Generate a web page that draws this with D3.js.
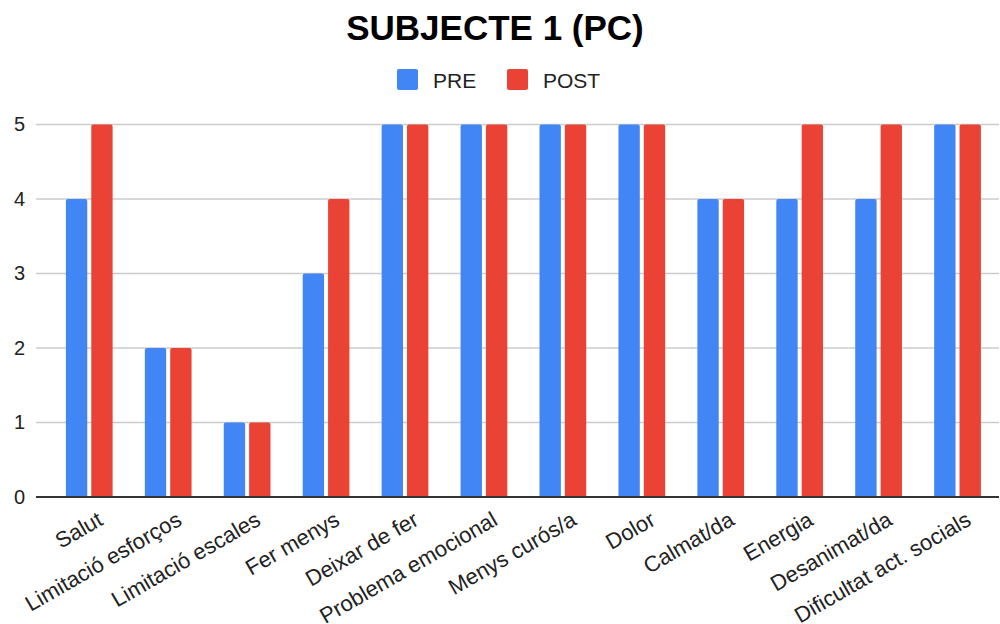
<!DOCTYPE html>
<html><head><meta charset="utf-8">
<script src="https://cdn.jsdelivr.net/npm/d3@7"></script>
<style>body{margin:0;background:#fff}svg{display:block;font-family:Arial,"Liberation Sans",sans-serif}</style>
</head><body><svg id="c" width="1000" height="624"></svg>
<script>
const categories = ["Salut","Limitació esforços","Limitació escales","Fer menys","Deixar de fer","Problema emocional","Menys curós/a","Dolor","Calmat/da","Energia","Desanimat/da","Dificultat act. socials"];
const seriesNames = ["PRE","POST"];
const preValues = [4,2,1,3,5,5,5,5,4,4,4,5];
const postValues = [5,2,1,4,5,5,5,5,4,5,5,5];
const yTicks = [0,1,2,3,4,5];
const colors = ["#4285F4","#EA4335"];

const svg = d3.select("#c");
const x0 = d3.scaleBand().domain(categories).range([49.8, 997]).paddingInner(0.408).paddingOuter(0.204);
const x1 = d3.scaleBand().domain(seriesNames).range([0, x0.bandwidth()]).paddingInner(0.158);
const y = d3.scaleLinear().domain([0,5]).range([497, 124.5]);

// title
svg.append("text").attr("x",495).attr("y",40).attr("text-anchor","middle")
  .attr("font-size",35).attr("font-weight","bold").attr("fill","#000").text("SUBJECTE 1 (PC)");

// legend
const legX = [397, 507];
seriesNames.forEach((s,i)=>{
  svg.append("rect").attr("x",legX[i]).attr("y",69).attr("width",21).attr("height",21).attr("rx",2).attr("fill",colors[i]);
  svg.append("text").attr("x",legX[i]+36).attr("y",88).attr("font-size",21).attr("fill","#222").text(s);
});

// gridlines
svg.append("g").selectAll("line").data(yTicks.filter(d=>d>0)).join("line")
  .attr("x1",36).attr("x2",999).attr("y1",d=>y(d)).attr("y2",d=>y(d))
  .attr("stroke","#cccccc").attr("stroke-width",1.3);

// y axis labels
const yAxis = d3.axisLeft(y).tickValues(yTicks).tickFormat(d3.format("d")).tickSize(0).tickPadding(0);
const ya = svg.append("g").attr("transform","translate(25,0)").call(yAxis);
ya.select(".domain").remove();
ya.selectAll("text").attr("font-size",20).attr("fill","#222").attr("font-family","Arial, 'Liberation Sans', sans-serif");

// bars
function barPath(x, w, yTop, yBot, r){
  r = Math.min(r, (yBot-yTop));
  return `M${x},${yBot}V${yTop+r}Q${x},${yTop} ${x+r},${yTop}H${x+w-r}Q${x+w},${yTop} ${x+w},${yTop+r}V${yBot}Z`;
}
const rows = categories.map((c,i)=>({c, vals:[preValues[i], postValues[i]]}));
const g = svg.append("g");
rows.forEach(r=>{
  r.vals.forEach((v,j)=>{
    const bx = x0(r.c) + x1(seriesNames[j]);
    g.append("path").attr("d", barPath(bx, x1.bandwidth(), y(v), y(0), 2)).attr("fill", colors[j]);
  });
});

// zero axis
svg.append("line").attr("x1",36).attr("x2",999).attr("y1",y(0)).attr("y2",y(0)).attr("stroke","#333").attr("stroke-width",2);

// x labels
const xAxis = d3.axisBottom(x0).tickSize(0).tickPadding(0);
const xa = svg.append("g").call(xAxis);
xa.select(".domain").remove();
xa.selectAll(".tick").attr("transform", d=>`translate(${x0(d)+x0.bandwidth()/2+15},524)`);
xa.selectAll("text").attr("font-size",22).attr("fill","#222").attr("font-family","Arial, 'Liberation Sans', sans-serif")
  .attr("text-anchor","end").attr("y",0).attr("dy",0).attr("transform","rotate(-30)");
</script></body></html>
